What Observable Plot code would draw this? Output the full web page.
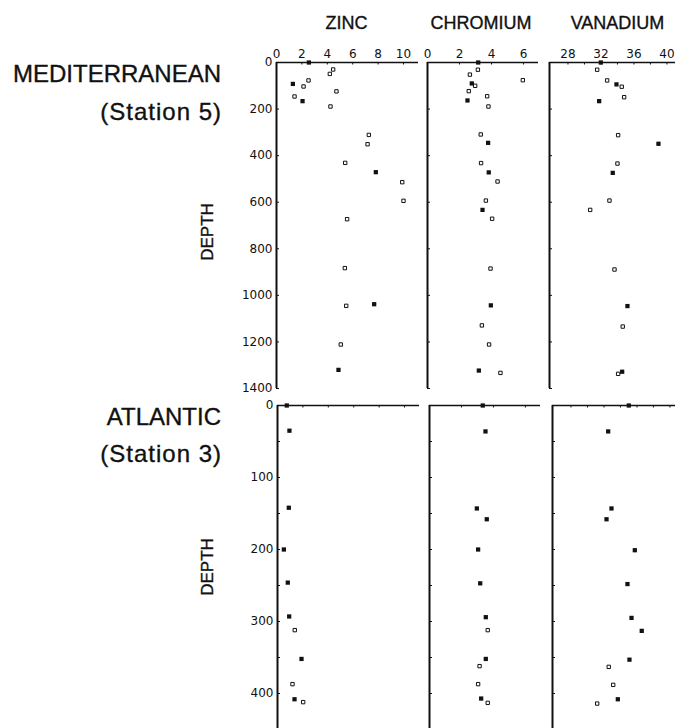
<!DOCTYPE html>
<html><head><meta charset="utf-8">
<script src="https://cdn.jsdelivr.net/npm/d3@7"></script>
<script src="https://cdn.jsdelivr.net/npm/@observablehq/plot@0.6"></script>
<style>
html,body{margin:0;padding:0;background:#fff;overflow:hidden}
#chart{position:relative;width:675px;height:728px;overflow:hidden;background:#fff;font-family:"Liberation Sans",Arial,Helvetica,sans-serif;color:#111}
.lbl{position:absolute;white-space:nowrap;line-height:1;-webkit-text-stroke:0.35px #111}
#chart svg{position:absolute}
</style></head><body><div id="chart"></div>
<script>
// ---- data: [value, depth] ----
const medZincFilled = [[2.55,0],[1.29,92],[2.05,166],[7.82,471],[7.69,1038],[4.88,1320]];
const medZincOpen = [[4.46,30],[4.2,49],[2.52,77],[2.13,103],[4.72,124],[1.42,146],[4.25,189],[7.27,311],[7.17,351],[5.41,431],[9.9,514],[10.0,594],[5.56,673],[5.38,883],[5.49,1045],[5.06,1211]];
const medChromFilled = [[3.17,0],[2.77,90],[2.5,163],[3.79,345],[3.83,472],[3.44,633],[3.96,1043],[3.21,1323]];
const medChromOpen = [[3.15,31],[2.65,52],[5.96,76],[2.98,100],[2.58,123],[3.73,145],[3.81,189],[3.33,309],[3.35,432],[4.38,511],[3.65,593],[4.04,671],[3.94,885],[3.4,1129],[3.85,1211],[4.56,1333]];
const medVanFilled = [[31.98,0],[33.88,94],[31.78,166],[38.97,349],[33.43,474],[35.21,1046],[34.57,1328]];
const medVanOpen = [[31.54,31],[32.75,77],[34.52,104],[34.81,149],[34.08,312],[34.0,434],[33.03,593],[30.69,633],[33.64,889],[34.64,1134],[34.08,1337]];

const atlZincFilled = [[0.73,0],[0.94,35],[0.89,142],[0.5,200],[0.81,246],[0.92,293],[1.89,352],[1.34,408]];
const atlZincOpen = [[1.36,312],[1.18,387],[2.02,412]];
const atlChromFilled = [[3.33,0],[3.5,36],[2.96,143],[3.58,158],[3.04,200],[3.17,247],[3.52,294],[3.52,352],[3.23,407]];
const atlChromOpen = [[3.64,312],[3.13,362],[3.04,387],[3.64,413]];
const atlVanFilled = [[35.01,0],[32.51,36],[32.91,143],[32.31,158],[35.74,201],[34.85,248],[35.34,295],[36.58,313],[35.09,353],[33.68,408]];
const atlVanOpen = [[32.58,363],[33.12,388],[31.18,414]];

// ---- tick labels ----
const elements = ["ZINC", "CHROMIUM", "VANADIUM"];
const zincTicks = [0, 2, 4, 6, 8, 10];
const chromTicks = [0, 2, 4, 6];
const vanTicks = [28, 32, 36, 40];
const medDepthTicks = [0, 200, 400, 600, 800, 1000, 1200, 1400];
const atlDepthTicks = [0, 100, 200, 300, 400];

const ink = "#111";
const chart = document.getElementById("chart");
const fmt = d => String(d);

function panel(o) {
  const mL = 40, mT = 30, mR = 14, mB = 6;
  const w = o.right - o.left, h = o.bottom - o.top;
  const [x0, x1] = o.xDomain, [y0, y1] = o.yDomain;
  const tx = (x1 - x0) * 3 / w;
  const ty = (y1 - y0) * 2.5 / h;
  const marks = [
    Plot.ruleX(o.xMinor, {x: d => d, y1: y0, y2: y0 + ty, stroke: ink, strokeWidth: 1}),
    Plot.ruleY(o.yMinor, {y: d => d, x1: x0, x2: x0 + tx, stroke: ink, strokeWidth: 1}),
    Plot.ruleY([y0], {x1: x0, x2: x1, stroke: ink, strokeWidth: 1.6}),
    Plot.ruleX([x0], {y1: y0, y2: y1, stroke: ink, strokeWidth: 2}),
    Plot.dot(o.open, {x: d => d[0], y: d => d[1], symbol: "square", r: 1.9, fill: "white", stroke: ink, strokeWidth: 1}),
    Plot.dot(o.filled, {x: d => d[0], y: d => d[1], symbol: "square", r: 2.4, fill: ink})
  ];
  if (o.xLabels) marks.push(Plot.axisX({anchor: "top", ticks: o.xLabels, tickFormat: fmt, tickSize: 0, tickPadding: 5, label: null, fontSize: 12}));
  if (o.yLabels) marks.push(Plot.axisY({anchor: "left", ticks: o.yLabels, tickFormat: fmt, tickSize: 0, tickPadding: 4, label: null, fontSize: 12}));
  const svg = Plot.plot({
    width: mL + w + mR, height: mT + h + mB,
    marginLeft: mL, marginTop: mT, marginRight: mR, marginBottom: mB,
    x: {domain: o.xDomain, axis: o.xLabels ? undefined : null},
    y: {domain: o.yDomain, reverse: true, axis: o.yLabels ? undefined : null},
    style: {background: "transparent", fontFamily: "'DejaVu Sans', sans-serif", color: ink, overflow: "visible"},
    marks
  });
  svg.style.left = (o.left - mL) + "px";
  svg.style.top = (o.top - mT) + "px";
  chart.appendChild(svg);
}

const zincDom = [0, 11.18], chromDom = [0, 6.94], vanDom = [25.76, 42.37];
const medDom = [0, 1400], atlDom = [0, 450];
const medMinor = medDepthTicks;
const atlMinor = d3.range(0, 451, 50);
const zincMinor = zincTicks.slice(1), chromMinor = chromTicks.slice(1), vanMinor = d3.range(28, 43, 2);

// Mediterranean row
panel({left: 276, right: 418, top: 62, bottom: 388, xDomain: zincDom, yDomain: medDom, filled: medZincFilled, open: medZincOpen, xLabels: zincTicks, yLabels: medDepthTicks, xMinor: zincMinor, yMinor: medMinor});
panel({left: 427, right: 538, top: 62, bottom: 388, xDomain: chromDom, yDomain: medDom, filled: medChromFilled, open: medChromOpen, xLabels: chromTicks, xMinor: chromMinor, yMinor: medMinor});
panel({left: 549, right: 686, top: 62, bottom: 388, xDomain: vanDom, yDomain: medDom, filled: medVanFilled, open: medVanOpen, xLabels: vanTicks, xMinor: vanMinor, yMinor: medMinor});
// Atlantic row
panel({left: 277, right: 419, top: 405, bottom: 729, xDomain: zincDom, yDomain: atlDom, filled: atlZincFilled, open: atlZincOpen, yLabels: atlDepthTicks, xMinor: zincMinor, yMinor: atlMinor});
panel({left: 429, right: 540, top: 405, bottom: 729, xDomain: chromDom, yDomain: atlDom, filled: atlChromFilled, open: atlChromOpen, xMinor: chromMinor, yMinor: atlMinor});
panel({left: 552, right: 689, top: 405, bottom: 729, xDomain: vanDom, yDomain: atlDom, filled: atlVanFilled, open: atlVanOpen, xMinor: vanMinor, yMinor: atlMinor});

function label(text, style) {
  const d = document.createElement("div");
  d.className = "lbl";
  d.textContent = text;
  Object.assign(d.style, style);
  chart.appendChild(d);
}
// element titles
[[elements[0], 346.5], [elements[1], 481], [elements[2], 617.5]].forEach(([t, cx]) =>
  label(t, {left: cx + "px", top: "14px", fontSize: "18px", transform: "translateX(-50%)"}));
// station labels
label("MEDITERRANEAN", {right: "454px", top: "62px", fontSize: "24px"});
label("(Station 5)", {right: "453px", top: "100px", fontSize: "24px", letterSpacing: "1px"});
label("ATLANTIC", {right: "454px", top: "405px", fontSize: "24px"});
label("(Station 3)", {right: "453px", top: "442px", fontSize: "24px", letterSpacing: "1px"});
// depth labels
label("DEPTH", {left: "207px", top: "232px", fontSize: "17px", transform: "translate(-50%,-50%) rotate(-90deg)"});
label("DEPTH", {left: "207px", top: "567px", fontSize: "17px", transform: "translate(-50%,-50%) rotate(-90deg)"});
</script></body></html>
